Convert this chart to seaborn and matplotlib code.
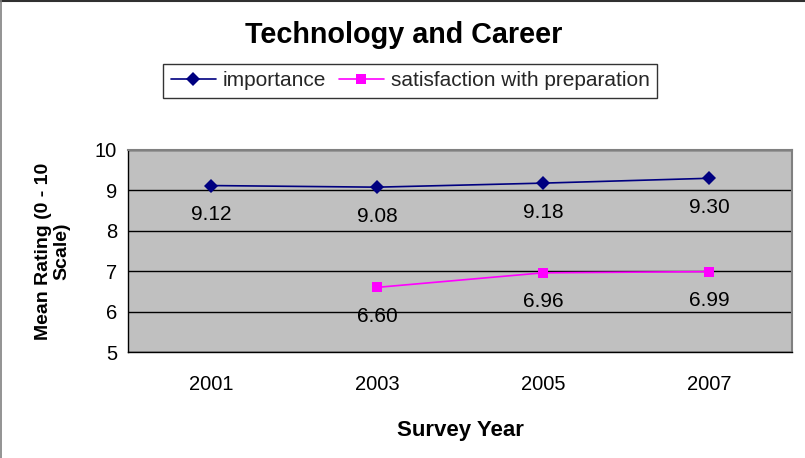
import matplotlib
matplotlib.use("Agg")
import matplotlib.pyplot as plt
import seaborn as sns
import pandas as pd
import numpy as np
from matplotlib.lines import Line2D
from matplotlib.ticker import FixedLocator

# Survey results
years = ["2001", "2003", "2005", "2007"]
importance = [9.12, 9.08, 9.18, 9.30]
satisfaction = [np.nan, 6.60, 6.96, 6.99]
series_names = ["importance", "satisfaction with preparation"]
y_ticks = [5, 6, 7, 8, 9, 10]

palette = {series_names[0]: "#000080", series_names[1]: "#FF00FF"}
marker_map = {series_names[0]: "D", series_names[1]: "s"}

sns.set_theme(style="white")
plt.rcParams["font.family"] = ["Liberation Sans", "DejaVu Sans"]

df = pd.DataFrame({
    "pos": list(range(len(years))) * 2,
    "year": years * 2,
    "value": importance + satisfaction,
    "series": [series_names[0]] * len(years) + [series_names[1]] * len(years),
})
plot_df = df.dropna()

fig = plt.figure(figsize=(8.05, 4.58), dpi=100)
ax = fig.add_axes([0.159, 0.2314, 0.825, 0.4411])

sns.lineplot(data=plot_df, x="pos", y="value", hue="series", style="series",
             hue_order=series_names, style_order=series_names,
             markers=marker_map, dashes=False, palette=palette, ax=ax,
             markersize=7, linewidth=1.2, markeredgewidth=0)

ax.set_facecolor("#C0C0C0")
ax.set_xlim(-0.5, len(years) - 0.5)
ax.set_ylim(5, 10)
ax.set_yticks(y_ticks)
ax.set_yticklabels([str(t) for t in y_ticks], fontsize=14.5)
ax.set_xticks(range(len(years)))
ax.set_xticklabels(years, fontsize=14.5)
ax.xaxis.set_minor_locator(FixedLocator(np.arange(-0.5, len(years), 1.0)))
ax.tick_params(axis="x", which="major", length=0, pad=16.5, colors="black")
ax.tick_params(axis="x", which="minor", length=5, width=1, direction="out", color="black")
ax.tick_params(axis="y", which="major", length=5, width=1, direction="out", pad=3, colors="black")

ax.yaxis.grid(True, color="black", linewidth=1)
ax.xaxis.grid(False)
for side in ("left", "bottom"):
    ax.spines[side].set_color("black")
    ax.spines[side].set_linewidth(1)
for side in ("top", "right"):
    ax.spines[side].set_color("#808080")
    ax.spines[side].set_linewidth(1.5)

# Value labels under each point
for name, vals in zip(series_names, [importance, satisfaction]):
    for i, v in enumerate(vals):
        if np.isnan(v):
            continue
        ax.annotate(f"{v:.2f}", (i, v), xytext=(0, -21), textcoords="offset points",
                    ha="center", va="center", fontsize=15, color="black")

ax.set_xlabel("Survey Year", fontsize=16, fontweight="bold", color="black")
ax.xaxis.set_label_coords(0.5, -0.337)
ax.set_ylabel("Mean Rating (0 - 10\nScale)", fontsize=14, fontweight="bold",
              color="black", linespacing=1.1)
ax.yaxis.set_label_coords(-0.087, 0.5)

fig.text(0.502, 0.9236, "Technology and Career", ha="center", va="center",
         fontsize=20.7, fontweight="bold", color="black")

handles, labels = ax.get_legend_handles_labels()
ax.legend(handles, labels, loc="center", bbox_to_anchor=(410 / 805, 1 - 81 / 458),
          bbox_transform=fig.transFigure, ncol=2, frameon=True, fancybox=False,
          edgecolor="black", fontsize=15, handlelength=2.2, handletextpad=0.3,
          columnspacing=0.6, borderpad=0.35)
leg = ax.get_legend()
leg.get_frame().set_linewidth(1)

# Chart area border
fig.add_artist(Line2D([0, 1], [0.998, 0.998], transform=fig.transFigure,
                      color="#303030", linewidth=1.5))
fig.add_artist(Line2D([0.001, 0.001], [0, 1], transform=fig.transFigure,
                      color="#808080", linewidth=1.2))

fig.savefig("out.png", dpi=100)
